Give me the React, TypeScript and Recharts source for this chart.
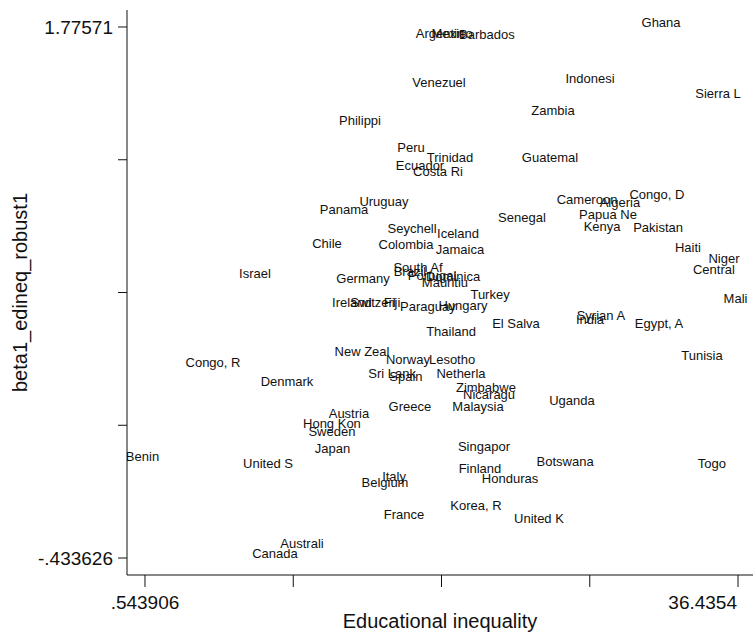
import React from 'react';
import { ScatterChart, Scatter, XAxis, YAxis } from 'recharts';

// Country labels (Stata-style 8-character truncation)
const countries = [
  'Ghana', 'Argentin', 'Mexico', 'Barbados', 'Venezuel', 'Indonesi', 'Sierra L', 'Zambia',
  'Philippi', 'Peru', 'Trinidad', 'Guatemal', 'Ecuador', 'Costa Ri', 'Congo, D', 'Cameroon',
  'Uruguay', 'Algeria', 'Panama', 'Papua Ne', 'Senegal', 'Kenya', 'Pakistan', 'Seychell',
  'Iceland', 'Chile', 'Colombia', 'Haiti', 'Jamaica', 'Niger', 'South Af', 'Central',
  'Brazil', 'Israel', 'Portugal', 'Dominica', 'Germany', 'Mauritiu', 'Turkey', 'Mali',
  'Ireland', 'Switzerl', 'Fiji', 'Hungary', 'Paraguay', 'Syrian A', 'India', 'El Salva',
  'Egypt, A', 'Thailand', 'New Zeal', 'Tunisia', 'Norway', 'Lesotho', 'Congo, R', 'Sri Lank',
  'Netherla', 'Spain', 'Denmark', 'Zimbabwe', 'Nicaragu', 'Uganda', 'Malaysia', 'Greece',
  'Austria', 'Hong Kon', 'Sweden', 'Singapor', 'Japan', 'Benin', 'Botswana', 'United S',
  'Togo', 'Finland', 'Italy', 'Honduras', 'Belgium', 'Korea, R', 'France', 'United K',
  'Australi', 'Canada',
];

// Educational inequality (x)
const inequality = [
  31.93, 18.55, 19.28, 21.39, 18.49, 27.63, 35.38, 25.39,
  13.71, 16.80, 19.16, 25.21, 17.34, 18.43, 31.68, 27.45,
  15.16, 29.44, 12.74, 28.72, 23.51, 28.36, 31.75, 16.86,
  19.64, 11.71, 16.49, 33.56, 19.76, 35.74, 17.22, 35.13,
  16.73, 7.35, 18.07, 19.34, 13.89, 18.85, 21.58, 36.4354,
  13.22, 14.50, 15.65, 19.94, 17.82, 28.29, 27.63, 23.15,
  31.81, 19.22, 13.83, 34.41, 16.61, 19.28, 4.81, 15.65,
  19.82, 16.49, 9.29, 21.33, 21.52, 26.54, 20.85, 16.73,
  13.04, 12.01, 12.01, 21.21, 12.04, 0.543906, 26.12, 8.14,
  35.01, 20.97, 15.77, 22.79, 15.22, 20.73, 16.37, 24.54,
  10.20, 8.56,
];

// beta1_edineq_robust1 (y)
const beta = [
  1.77571, 1.732, 1.732, 1.724, 1.524, 1.541, 1.482, 1.408,
  1.366, 1.254, 1.216, 1.212, 1.179, 1.154, 1.058, 1.041,
  1.029, 1.025, 0.996, 0.975, 0.966, 0.925, 0.921, 0.917,
  0.896, 0.858, 0.854, 0.838, 0.833, 0.792, 0.758, 0.750,
  0.738, 0.733, 0.721, 0.717, 0.709, 0.696, 0.642, 0.629,
  0.609, 0.609, 0.609, 0.600, 0.592, 0.555, 0.542, 0.525,
  0.525, 0.492, 0.405, 0.392, 0.372, 0.372, 0.359, 0.317,
  0.317, 0.301, 0.284, 0.259, 0.226, 0.205, 0.176, 0.176,
  0.147, 0.109, 0.072, 0.0095, 0.0053, -0.032, -0.049, -0.061,
  -0.061, -0.078, -0.115, -0.120, -0.140, -0.232, -0.273, -0.290,
  -0.390, -0.433626,
];

const xTicks = [0.543906, 9.516779, 18.489652, 27.462526, 36.4354];
const xTickLabels = ['.543906', '', '', '', '36.4354'];
const yTicks = [-0.433626, 0.118708, 0.671042, 1.223376, 1.77571];
const yTickLabels = ['-.433626', '', '', '', '1.77571'];

const xTitle = 'Educational inequality';
const yTitle = 'beta1_edineq_robust1';

const data = countries.map((name, i) => ({ name, x: inequality[i], y: beta[i] }));

const FONT = '"Liberation Sans", Arial, sans-serif';
const INK = '#111';

const XTick = (props: any) => {
  const { x, y, index } = props;
  const label = xTickLabels[index];
  if (!label) return null;
  const last = index === xTickLabels.length - 1;
  return (
    <text
      x={last ? x + 10 : x}
      y={y + 20}
      textAnchor={last ? 'end' : 'middle'}
      fontSize={19}
      fill={INK}
      fontFamily={FONT}
    >
      {label}
    </text>
  );
};

const YTick = (props: any) => {
  const { x, y, index } = props;
  const label = yTickLabels[index];
  if (!label) return null;
  return (
    <text x={x - 3} y={y + 7} textAnchor="end" fontSize={19} fill={INK} fontFamily={FONT}>
      {label}
    </text>
  );
};

const CountryLabel = (props: any) => {
  const { cx, cy, payload } = props;
  return (
    <text x={cx - 2.5} y={cy} textAnchor="middle" fontSize={13} fill={INK} fontFamily={FONT}>
      {payload.name}
    </text>
  );
};

export default function App() {
  return (
    <div style={{ position: 'absolute', left: 0, top: 0, background: '#fff', fontFamily: FONT }}>
      <ScatterChart width={753} height={635} margin={{ top: 10, right: 0, bottom: 0, left: 0 }}>
        <XAxis
          type="number"
          dataKey="x"
          domain={[-0.5455, 37.3431]}
          ticks={xTicks}
          tick={<XTick />}
          tickSize={12}
          height={60}
          axisLine={{ stroke: INK, strokeWidth: 1 }}
          tickLine={{ stroke: INK, strokeWidth: 1 }}
          allowDataOverflow
          label={{
            content: ({ viewBox }: any) => (
              <text
                x={viewBox.x + viewBox.width / 2}
                y={viewBox.y + 53}
                textAnchor="middle"
                fontSize={20}
                fill={INK}
                fontFamily={FONT}
              >
                {xTitle}
              </text>
            ),
          }}
        />
        <YAxis
          type="number"
          dataKey="y"
          domain={[-0.50435, 1.84644]}
          ticks={yTicks}
          tick={<YTick />}
          tickSize={9}
          width={127}
          axisLine={{ stroke: INK, strokeWidth: 1 }}
          tickLine={{ stroke: INK, strokeWidth: 1 }}
          allowDataOverflow
          label={{
            content: ({ viewBox }: any) => {
              const cx = 27;
              const cy = viewBox.y + viewBox.height / 2;
              return (
                <text
                  x={cx}
                  y={cy}
                  transform={`rotate(-90, ${cx}, ${cy})`}
                  textAnchor="middle"
                  fontSize={20}
                  fill={INK}
                  fontFamily={FONT}
                >
                  {yTitle}
                </text>
              );
            },
          }}
        />
        <Scatter data={data} shape={<CountryLabel />} isAnimationActive={false} />
      </ScatterChart>
    </div>
  );
}
